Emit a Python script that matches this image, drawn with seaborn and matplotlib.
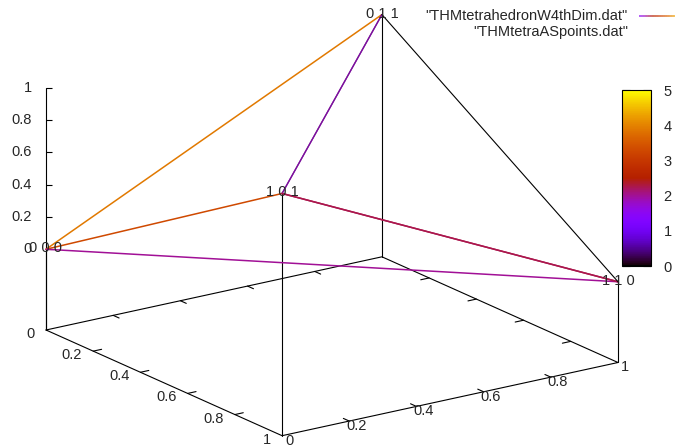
import numpy as np
import matplotlib
matplotlib.use("Agg")
import matplotlib.pyplot as plt
import seaborn as sns
from matplotlib.transforms import offset_copy
from matplotlib.collections import LineCollection
from matplotlib.colors import Normalize
from matplotlib.cm import ScalarMappable

# ---------------- data ----------------
vert_x = [0, 1, 0, 1]
vert_y = [0, 0, 1, 1]
vert_z = [0, 1, 1, 0]
vert_labels = ["0 0 0", "1 0 1", "0 1 1", "1 1 0"]
# edges as drawn in the data file (some repeated with different 4th-dim value)
edge_from = [0, 0, 0, 1, 1, 1, 1, 2]
edge_to = [2, 1, 3, 2, 2, 3, 3, 3]
edge_w = [3.9, 3.3, 2.0, 0.0, 1.8, 2.25, 2.25, 0.0]
x_ticks = [0, 0.2, 0.4, 0.6, 0.8, 1]
y_ticks = [0, 0.2, 0.4, 0.6, 0.8, 1]
z_ticks = [0, 0.2, 0.4, 0.6, 0.8, 1]
cb_ticks = [0, 1, 2, 3, 4, 5]
series_names = ['"THMtetrahedronW4thDim.dat"', '"THMtetraASpoints.dat"']
legend_sample_w = [1.5, 4.3]

# ---------------- style ----------------
sns.set_style("white")
plt.rcParams["font.family"] = ["Liberation Sans", "DejaVu Sans"]
FS = 10.5
cmap = sns.color_palette("gnuplot", as_cmap=True)
norm = Normalize(0, 5)

W, H = 675, 446
fig = plt.figure(figsize=(W / 100, H / 100), dpi=100)
fig.patch.set_facecolor("white")

zbase = -0.5
S0 = 400
ax = fig.add_axes([(W / 2 - S0 / 2) / W, (H / 2 - S0 / 2) / H, S0 / W, S0 / H],
                  projection="3d", proj_type="ortho", computed_zorder=False)
ax.view_init(elev=18.2, azim=-34.9)
ax.set_box_aspect((411, 408, 254))
ax.set_xlim(0, 1)
ax.set_ylim(0, 1)
ax.set_zlim(zbase, 1)
ax.set_axis_off()
ax.patch.set_alpha(0)

# ---- place the axes so the base box lands like the reference ----
fig.canvas.draw()
M = ax.get_proj()


def to_disp(x, y, z):
    v = M @ np.array([x, y, z, 1.0])
    return ax.transData.transform([[v[0] / v[3], v[1] / v[3]]])[0]


pos = ax.get_position()
x0, y0, w0, h0 = pos.x0 * W, pos.y0 * H, pos.width * W, pos.height * H
pL = to_disp(0, 0, zbase)
pR = to_disp(1, 1, zbase)
aL, bL = (pL[0] - x0) / w0, (pL[1] - y0) / h0
aR = (pR[0] - x0) / w0
S = (618 - 46) / (aR - aL)
nx0 = 46 - aL * S
ny0 = (H - 330) - bL * S
ax.set_position([nx0 / W, ny0 / H, S / W, S / H])

k = dict(color="black", lw=0.8)
# base box
bx = [0, 1, 1, 0, 0]
by = [0, 0, 1, 1, 0]
ax.plot(bx, by, [zbase] * 5, **k)
# z axis border
ax.plot([0, 0], [0, 0], [zbase, 1], **k)
# x ticks (front + mirrored on back)
tl = 0.025
for t in x_ticks[1:-1]:
    ax.plot([t, t], [0, tl], [zbase, zbase], **k)
    ax.plot([t, t], [1, 1 - tl], [zbase, zbase], **k)
for t in y_ticks[1:-1]:
    ax.plot([1, 1 - tl], [t, t], [zbase, zbase], **k)
    ax.plot([0, tl], [t, t], [zbase, zbase], **k)
# z ticks as screen-horizontal markers
ax.plot([0] * len(z_ticks), [0] * len(z_ticks), z_ticks, ls="none",
        marker=[(0, 0), (1, 0)], markersize=8.6, markeredgewidth=0.8,
        markeredgecolor="black", markerfacecolor="none")

# impulses from the base plane
for x, y, z in zip(vert_x, vert_y, vert_z):
    ax.plot([x, x], [y, y], [zbase, z], **k)

# tetrahedron edges colored by the 4th dimension
for i, j, w in zip(edge_from, edge_to, edge_w):
    ax.plot([vert_x[i], vert_x[j]], [vert_y[i], vert_y[j]], [vert_z[i], vert_z[j]],
            color=cmap(norm(w)), lw=1.1 if w > 0 else 0.8,
            alpha=0.8 if 0 < w < 1.9 else 1.0)


def off(dx, dy):
    return offset_copy(ax.transData, fig=fig, x=dx, y=dy, units="dots")


# tick labels
for t in z_ticks:
    ax.text(0, 0, t, f"{t:g}", transform=off(-14, 0), ha="right", va="center", fontsize=FS)
for t in x_ticks:
    ax.text(t, 0, zbase, f"{t:g}", transform=off(-11, -4), ha="right", va="center", fontsize=FS)
for t in y_ticks:
    ax.text(1, t, zbase, f"{t:g}", transform=off(7, -5), ha="center", va="center", fontsize=FS)

# point labels
for x, y, z, s in zip(vert_x, vert_y, vert_z, vert_labels):
    ax.text(x, y, z, s, transform=off(0, 1), ha="center", va="center", fontsize=FS)

# ---- legend (gnuplot style, top right) ----
fig.text(628 / W, 1 - 16 / H, series_names[0], ha="right", va="center", fontsize=FS)
fig.text(628 / W, 1 - 32 / H, series_names[1], ha="right", va="center", fontsize=FS)
n = 20
xs = np.linspace(639, 676, n + 1)
segs = [[(xs[i] / W, 1 - 16 / H), (xs[i + 1] / W, 1 - 16 / H)] for i in range(n)]
vals = np.linspace(legend_sample_w[0], legend_sample_w[1], n)
lc = LineCollection(segs, colors=[cmap(norm(v)) for v in vals], linewidths=1.2,
                    transform=fig.transFigure, alpha=0.75)
fig.add_artist(lc)

# ---- colorbar ----
cax = fig.add_axes([622 / W, (H - 266) / H, 29 / W, 176 / H])
cb = fig.colorbar(ScalarMappable(norm=norm, cmap=cmap), cax=cax, ticks=cb_ticks)
cb.outline.set_linewidth(0.8)
cb.outline.set_edgecolor("black")
cax.tick_params(axis="y", which="major", left=True, right=True, direction="in",
                length=6, width=0.8, color="black", labelleft=False, labelright=True,
                labelsize=FS, pad=9)
cax.minorticks_off()

fig.savefig("out.png", dpi=100)
